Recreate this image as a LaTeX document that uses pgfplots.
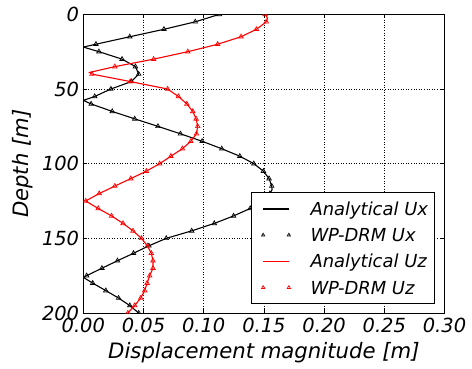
\documentclass[border=0pt]{standalone}
\usepackage{fontspec}
\setmainfont{DejaVu Sans}
\usepackage{pgfplots}
\pgfplotsset{compat=1.18}
\usepackage{pgfplotstable}

\pgfplotsset{
  blacklineleg/.style={legend image code/.code={\path (0bp,0bp); \draw[black, solid, line width=1.2bp] (5bp,0bp) -- (30.7bp,0bp);}},
  redlineleg/.style={legend image code/.code={\path (0bp,0bp); \draw[red, solid, line width=1.4bp] (5bp,0bp) -- (30.7bp,0bp);}},
  markleg/.style={legend image code/.code={\path (0bp,0bp); \draw[draw=#1, color=#1, line width=0.6bp] plot[mark=triangle, mark size=1.9bp, only marks] coordinates {(5bp,0bp) (30.7bp,0bp)};}},
}

\pgfplotstableread{
d ux uz
0 0.113 0.151
5 0.093 0.152
10 0.067 0.1438
15 0.0386 0.131
20 0.0105 0.1116
25 0.013 0.0868
30 0.0322 0.0584
35 0.0433 0.0262
40 0.046 0.0072
45 0.040 0.039
50 0.0229 0.070
55 0.0095 0.079
60 0.0065 0.086
65 0.024 0.0909
70 0.0427 0.0937
75 0.062 0.095
80 0.0807 0.0940
85 0.0987 0.0893
90 0.115 0.0823
95 0.130 0.0727
100 0.1416 0.0634
105 0.1496 0.0524
110 0.1543 0.0394
115 0.1565 0.0262
120 0.155 0.0132
125 0.149 0.002
130 0.1386 0.0124
135 0.1248 0.0235
140 0.1088 0.033
145 0.090 0.0413
150 0.0689 0.0483
155 0.0545 0.0532
160 0.0417 0.0565
165 0.0284 0.0579
170 0.0155 0.0579
175 0.0028 0.0551
180 0.0078 0.053
185 0.0187 0.051
190 0.0293 0.0477
195 0.0386 0.0427
200 0.046 0.037
}\mk

\pgfplotstableread{
d ux
0 0.113
5 0.093
10 0.067
15 0.0386
20 0.0105
21.9 0
25 0.013
30 0.0322
35 0.0433
40 0.046
45 0.040
50 0.0229
55 0.0095
57.6 0
60 0.0065
65 0.024
70 0.0427
75 0.062
80 0.0807
85 0.0987
90 0.115
95 0.130
100 0.1416
105 0.1496
110 0.1543
115 0.1565
117.5 0.1568
120 0.155
125 0.149
130 0.1386
135 0.1248
140 0.1088
145 0.090
150 0.0689
155 0.0545
160 0.0417
165 0.0284
170 0.0155
175 0.0028
176.1 0
180 0.0078
185 0.0187
190 0.0293
195 0.0386
200 0.046
}\uxline

\pgfplotstableread{
d uz
0 0.151
2.5 0.153
5 0.152
10 0.1438
15 0.131
20 0.1116
25 0.0868
30 0.0584
35 0.0262
38.9 0.0052
40 0.0072
45 0.039
50 0.070
55 0.079
60 0.086
65 0.0909
70 0.0937
75 0.095
80 0.0940
85 0.0893
90 0.0823
95 0.0727
100 0.0634
105 0.0524
110 0.0394
115 0.0262
120 0.0132
125 0.002
130 0.0124
135 0.0235
140 0.033
145 0.0413
150 0.0483
155 0.0532
160 0.0565
165 0.0579
170 0.0579
175 0.0551
180 0.053
185 0.051
190 0.0477
195 0.0427
200 0.037
}\uzline

\begin{document}
\begin{tikzpicture}
\begin{axis}[
  scale only axis,
  width=361.2bp, height=298.65bp,
  xmin=0, xmax=0.3, ymin=0, ymax=200,
  y dir=reverse,
  xtick={0,0.05,0.10,0.15,0.20,0.25,0.30},
  ytick={0,50,100,150,200},
  xticklabel style={/pgf/number format/fixed, /pgf/number format/fixed zerofill, /pgf/number format/precision=2},
  scaled x ticks=false,
  /pgf/number format/assume math mode=true,
  tick label style={font=\fontsize{19.5}{19.5}\selectfont\itshape, inner sep=0pt},
  xticklabel style={anchor=north, yshift=-5bp},
  yticklabel style={anchor=east, xshift=-4bp},
  label style={font=\fontsize{21.3}{21.3}\selectfont\itshape, inner sep=0pt},
  xlabel={Displacement magnitude [m]},
  ylabel={Depth [m]},
  xlabel style={at={(axis description cs:0.5,0)}, anchor=north, yshift=-29.5bp},
  ylabel style={at={(axis description cs:0,0.5)}, anchor=south, yshift=49.8bp},
  grid=major,
  major grid style={black, line width=0.5bp, dash pattern=on 1bp off 1.6bp},
  axis line style={black, line width=1bp},
  tick style={black, line width=0.8bp},
  major tick length=4bp,
  tick align=inside,
  clip marker paths=true,
  legend cell align=left,
  legend style={at={(axis description cs:1,0)}, anchor=south east,
    xshift=-9.5bp, yshift=9bp,
    draw=black, line width=0.8bp, fill=white,
    inner xsep=6.6bp, inner ysep=7.1bp,
    row sep=8.2bp, column sep=20bp,
    font=\fontsize{18}{18}\selectfont\itshape,
    nodes={inner sep=0pt, text height=15.5bp, text depth=2.5bp}},
]
\addplot[black, line width=1.1bp, blacklineleg]
  table[x=ux, y=d] {\uxline};
\addlegendentry{Analytical Ux}
\addplot[black, only marks, mark=triangle, mark size=2.6bp, mark options={line width=0.7bp}, markleg=black]
  table[x=ux, y=d] {\mk};
\addlegendentry{WP-DRM Ux}
\addplot[red, line width=1.1bp, redlineleg]
  table[x=uz, y=d] {\uzline};
\addlegendentry{Analytical Uz}
\addplot[red, only marks, mark=triangle, mark size=2.6bp, mark options={line width=0.7bp}, markleg=red]
  table[x=uz, y=d] {\mk};
\addlegendentry{WP-DRM Uz}
\coordinate (ll) at (axis cs:0,200);
\end{axis}
\pgfresetboundingbox
\path (ll) ++(-83.3bp,-56bp) rectangle ++(472bp,369bp);
\end{tikzpicture}
\end{document}
